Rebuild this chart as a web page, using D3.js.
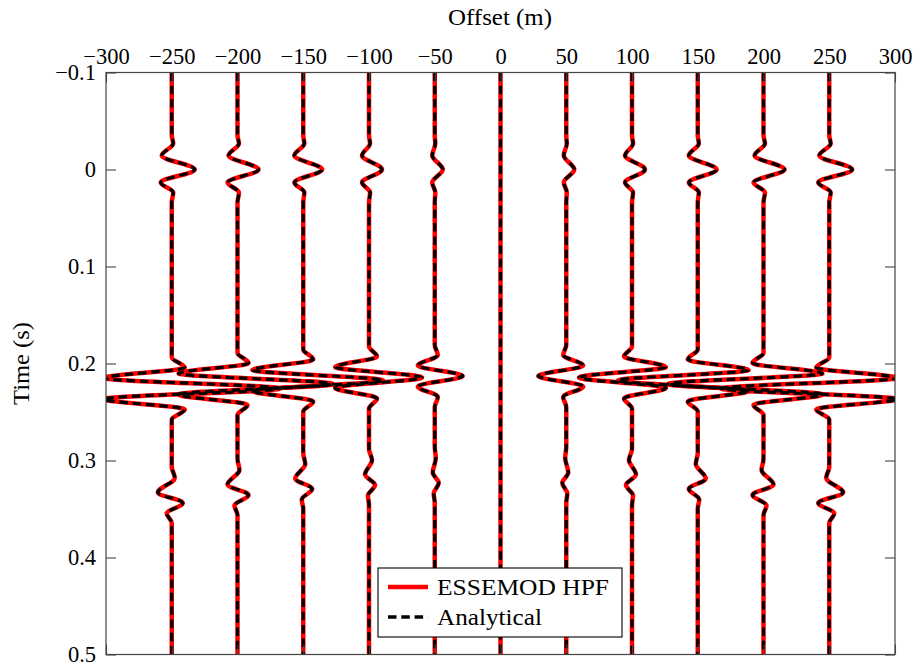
<!DOCTYPE html>
<html><head><meta charset="utf-8">
<script src="https://cdn.jsdelivr.net/npm/d3@7"></script>
<style>
html,body{margin:0;padding:0;background:#fff;}
svg text{font-family:"Liberation Serif","DejaVu Serif",serif !important;fill:#000;}
</style></head>
<body>
<svg id="chart" width="918" height="665"></svg>
<script>
// ---------------- data ----------------
const offsets = [-250, -200, -150, -100, -50, 0, 50, 100, 150, 200, 250];
const xTickValues = [-300, -250, -200, -150, -100, -50, 0, 50, 100, 150, 200, 250, 300];
const xTickLabels = ["−300","−250","−200","−150","−100","−50","0","50","100","150","200","250","300"];
const yTickValues = [-0.1, 0, 0.1, 0.2, 0.3, 0.4, 0.5];
const yTickLabels = ["−0.1","0","0.1","0.2","0.3","0.4","0.5"];
const seriesNames = ["ESSEMOD HPF", "Analytical"];

// event 1: arrival at t = 0 (trace deflection in m of offset axis)
const directCenter = [0,0,0,0,0,0,0,0,0,0,0];
const directLags = [-0.035, -0.0268, -0.0144, 0, 0.0134, 0.0237, 0.034];
const directAmp = [
  [1.1, -7.6, 17.5, -8.4, 1.1],
  [1.1, -6.8, 16.0, -7.6, 1.1],
  [0.8, -6.8, 14.4, -6.8, 0.8],
  [0.8, -5.3, 9.9, -5.3, 0.8],
  [0.4, -1.9, 6.1, -1.9, 0.4],
  [0, 0, 0, 0, 0],
  [0.4, -1.9, 6.1, -1.9, 0.4],
  [0.8, -5.3, 9.9, -5.3, 0.8],
  [0.8, -6.8, 14.4, -6.8, 0.8],
  [1.1, -6.8, 16.0, -7.6, 1.1],
  [1.1, -7.6, 17.5, -8.4, 1.1]
];

// event 2: strong reflection near 0.21-0.23 s
const reflCenter = [0.2258, 0.2211, 0.2175, 0.2144, 0.2129, 0.2129, 0.2129, 0.2144, 0.2175, 0.2211, 0.2258];
const reflLags = [-0.032, -0.0216, -0.0108, 0, 0.0108, 0.0216, 0.032];
const reflAmp = [
  [9.9, -51.7, 82.1, -51.7, 9.9],
  [8.4, -44.8, 72.2, -44.8, 7.6],
  [7.6, -38.8, 60.8, -38.8, 7.6],
  [6.1, -25.8, 40.3, -25.8, 6.1],
  [2.3, -12.9, 21.3, -12.9, 2.3],
  [0, 0, 0, 0, 0],
  [-2.3, 12.9, -21.3, 12.9, -2.3],
  [-6.1, 25.8, -40.3, 25.8, -6.1],
  [-7.6, 38.8, -60.8, 38.8, -7.6],
  [-8.4, 44.8, -72.2, 44.8, -7.6],
  [-9.9, 51.7, -82.1, 51.7, -9.9]
];

// event 3: weak event near 0.32-0.35 s
const lateCenter = [0.3438, 0.3356, 0.3294, 0.3253, 0.3232, 0.3232, 0.3232, 0.3253, 0.3294, 0.3356, 0.3438];
const lateLags = [-0.0371, -0.0258, -0.0108, 0, 0.0108, 0.0206];
const lateAmp = [
  [2.3, -10.6, 8.4, -3.8],
  [1.5, -7.6, 8.4, -2.3],
  [1.5, -6.1, 6.8, -1.1],
  [2.3, -3.0, 4.6, -0.8],
  [0.8, -1.5, 3.0, -0.8],
  [0, 0, 0, 0],
  [-0.8, 1.5, -3.0, 0.8],
  [-2.3, 3.0, -4.6, 0.8],
  [-1.5, 6.1, -6.8, 1.1],
  [-1.5, 7.6, -8.4, 2.3],
  [-2.3, 10.6, -8.4, 3.8]
];

// ---------------- chart ----------------
const svg = d3.select("#chart");
const L = 106, R = 895, T = 72.5, B = 654.5;
const x = d3.scaleLinear().domain([-300, 300]).range([L, R]);
const y = d3.scaleLinear().domain([-0.1, 0.5]).range([T, B]);
const FS = 22.5;
const FF = "Liberation Serif";

svg.append("defs").append("clipPath").attr("id", "clip")
  .append("rect").attr("x", L).attr("y", T).attr("width", R - L).attr("height", B - T);

function tracePoints(i) {
  const pts = [[-0.1, 0], [0.5, 0]];
  const add = (c, lags, amps) => {
    pts.push([c + lags[0], 0]);
    amps.forEach((a, k) => pts.push([c + lags[k + 1], a]));
    pts.push([c + lags[lags.length - 1], 0]);
  };
  add(directCenter[i], directLags, directAmp[i]);
  add(reflCenter[i], reflLags, reflAmp[i]);
  add(lateCenter[i], lateLags, lateAmp[i]);
  pts.sort((a, b) => a[0] - b[0]);
  return pts.map(p => ({ t: p[0], v: offsets[i] + p[1] }));
}

const line = d3.line().x(d => x(d.v)).y(d => y(d.t)).curve(d3.curveMonotoneY);
const traces = offsets.map((o, i) => tracePoints(i));

const g = svg.append("g").attr("clip-path", "url(#clip)");
g.selectAll("path.red").data(traces).join("path").attr("class", "red")
  .attr("d", line).attr("fill", "none").attr("stroke", "#ff0000").attr("stroke-width", 4.5)
  .attr("stroke-linejoin", "round");
g.selectAll("path.blk").data(traces).join("path").attr("class", "blk")
  .attr("d", line).attr("fill", "none").attr("stroke", "#000").attr("stroke-width", 3.2)
  .attr("stroke-dasharray", "8.5,4.8").attr("stroke-linejoin", "round");

// axes
function styleAxis(sel) {
  sel.attr("font-family", FF).attr("font-size", FS);
  sel.select(".domain").remove();
  sel.selectAll(".tick line").attr("stroke", "#444").attr("stroke-width", 1.1);
  sel.selectAll(".tick text").attr("font-size", FS).attr("font-family", FF).attr("fill", "#000");
}
svg.append("g").attr("transform", `translate(${L},0)`)
  .call(d3.axisLeft(y).tickValues(yTickValues).tickSizeInner(-10).tickSizeOuter(0).tickPadding(10)
    .tickFormat((d, i) => yTickLabels[i])).call(styleAxis);
svg.append("g").attr("transform", `translate(${R},0)`)
  .call(d3.axisRight(y).tickValues(yTickValues).tickSizeInner(-10).tickSizeOuter(0).tickFormat("")).call(styleAxis);
svg.append("g").attr("transform", `translate(0,${T})`)
  .call(d3.axisTop(x).tickValues(xTickValues).tickSizeInner(-10).tickSizeOuter(0).tickPadding(8.5)
    .tickFormat((d, i) => xTickLabels[i])).call(styleAxis);
svg.append("g").attr("transform", `translate(0,${B})`)
  .call(d3.axisBottom(x).tickValues(xTickValues).tickSizeInner(-10).tickSizeOuter(0).tickFormat("")).call(styleAxis);

svg.append("rect").attr("x", L).attr("y", T).attr("width", R - L).attr("height", B - T)
  .attr("fill", "none").attr("stroke", "#444").attr("stroke-width", 1.2);

// axis titles
svg.append("text").attr("x", 500).attr("y", 25).attr("text-anchor", "middle").attr("font-family", FF)
  .attr("font-size", FS).attr("textLength", 104).attr("lengthAdjust", "spacingAndGlyphs").text("Offset (m)");
svg.append("text").attr("transform", "translate(29,363.5) rotate(-90)").attr("text-anchor", "middle").attr("font-family", FF)
  .attr("font-size", FS).attr("textLength", 83).attr("lengthAdjust", "spacingAndGlyphs").text("Time (s)");

// legend
const lg = svg.append("g");
lg.append("rect").attr("x", 378).attr("y", 568).attr("width", 244).attr("height", 69)
  .attr("fill", "#fff").attr("stroke", "#000").attr("stroke-width", 1.1);
lg.append("line").attr("x1", 388).attr("x2", 428).attr("y1", 587).attr("y2", 587)
  .attr("stroke", "#ff0000").attr("stroke-width", 4.5);
lg.append("line").attr("x1", 388).attr("x2", 428).attr("y1", 617).attr("y2", 617)
  .attr("stroke", "#000").attr("stroke-width", 3.6).attr("stroke-dasharray", "8.5,4.8");
lg.append("text").attr("x", 437).attr("y", 595).attr("font-size", FS).attr("font-family", FF)
  .attr("textLength", 172).attr("lengthAdjust", "spacingAndGlyphs").text(seriesNames[0]);
lg.append("text").attr("x", 437).attr("y", 624.5).attr("font-size", FS).attr("font-family", FF)
  .attr("textLength", 105).attr("lengthAdjust", "spacingAndGlyphs").text(seriesNames[1]);
</script>
</body></html>
